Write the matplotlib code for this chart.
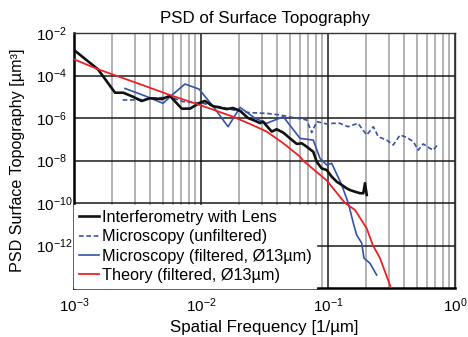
import numpy as np
import matplotlib
matplotlib.use("Agg")
import matplotlib.pyplot as plt
from matplotlib.ticker import LogLocator, FixedLocator, NullFormatter

plt.rcParams['font.family'] = ['Liberation Sans', 'DejaVu Sans']
plt.rcParams['mathtext.fontset'] = 'custom'
plt.rcParams['mathtext.rm'] = 'Liberation Sans'
plt.rcParams['mathtext.it'] = 'Liberation Sans:italic'
plt.rcParams['mathtext.bf'] = 'Liberation Sans:bold'

# ---- data (log10 values) ----
interf_logf = [-3.000, -2.811, -2.677, -2.612, -2.535, -2.467, -2.402, -2.309, -2.244,
               -2.152, -2.087, -2.008, -1.969, -1.906, -1.798, -1.748, -1.693, -1.630,
               -1.575, -1.535, -1.512, -1.443, -1.404, -1.352, -1.299, -1.246, -1.207,
               -1.168, -1.116, -1.089, -1.050, -1.010, -0.971, -0.931, -0.892, -0.853,
               -0.827, -0.787, -0.748, -0.722, -0.709, -0.695]
interf_logp = [-2.80, -3.71, -4.81, -4.81, -5.00, -5.20, -5.07, -5.11, -4.96,
               -5.56, -5.56, -5.28, -5.20, -5.44, -5.58, -5.53, -5.66, -6.00,
               -6.13, -6.24, -6.17, -6.64, -6.53, -6.69, -6.96, -7.22, -7.19,
               -7.35, -7.59, -8.06, -8.37, -8.45, -8.76, -9.00, -9.15, -9.31,
               -9.39, -9.47, -9.54, -9.54, -9.07, -9.62]

micro_raw_logf = [-2.617, -2.506, -2.244, -2.142, -1.982, -1.906, -1.850, -1.748, -1.614,
                  -1.483, -1.378, -1.246, -1.168, -1.128, -1.089, -1.010, -0.958, -0.906,
                  -0.843, -0.764, -0.695, -0.643, -0.604, -0.538, -0.486, -0.433, -0.380,
                  -0.328, -0.289, -0.250, -0.197, -0.171, -0.132]
micro_raw_logp = [-5.15, -5.15, -5.00, -5.23, -5.31, -5.44, -5.47, -5.62, -5.75,
                  -5.78, -5.86, -6.01, -6.09, -6.69, -6.17, -6.28, -6.25, -6.25,
                  -6.41, -6.25, -6.80, -6.41, -6.88, -7.04, -7.27, -6.80, -6.91,
                  -7.12, -7.51, -7.22, -7.43, -7.51, -7.22]

micro_filt_logf = [-2.598, -2.441, -2.299, -2.228, -2.126, -2.016, -1.906, -1.787, -1.693,
                   -1.575, -1.483, -1.352, -1.220, -1.116, -1.063, -1.010, -0.971, -0.892,
                   -0.840, -0.800, -0.774, -0.735, -0.717, -0.669, -0.617]
micro_filt_logp = [-4.61, -4.96, -5.31, -4.92, -4.40, -4.64, -5.44, -6.41, -5.50,
                   -6.01, -6.25, -5.94, -6.96, -7.04, -7.90, -8.21, -8.13, -9.15,
                   -10.01, -10.96, -11.51, -11.88, -12.59, -12.84, -13.39]

theory_logf = [-3.000, -2.809, -2.512, -2.244, -2.008, -1.748, -1.614, -1.483, -1.354,
               -1.220, -1.197, -1.010, -0.866, -0.787, -0.695, -0.646, -0.591, -0.504]
theory_logp = [-3.24, -3.71, -4.34, -4.92, -5.39, -5.94, -6.28, -6.64, -7.18,
               -7.82, -8.00, -8.94, -10.00, -10.33, -11.20, -12.00, -12.59, -14.00]

labels = ["Interferometry with Lens", "Microscopy (unfiltered)",
          "Microscopy (filtered, Ø13µm)", "Theory (filtered, Ø13µm)"]
title = "PSD of Surface Topography"
xlabel = "Spatial Frequency [1/µm]"
ylabel = "PSD Surface Topography [µm³]"
xtick_labels = [r'$10^{-3}$', r'$10^{-2}$', r'$10^{-1}$', r'$10^{0}$']
ytick_labels = [r'$10^{-2}$', r'$10^{-4}$', r'$10^{-6}$', r'$10^{-8}$', r'$10^{-10}$', r'$10^{-12}$']

def p10(a):
    return 10.0 ** np.asarray(a)

fig = plt.figure(figsize=(4.68, 3.37), dpi=100)
ax = fig.add_axes([74/468, 1-288/337, (455-74)/468, (288-33)/337])

blue = '#3553a6'
red = '#ee2024'
ax.plot(p10(interf_logf), p10(interf_logp), color='#111111', lw=1.9, label=labels[0], zorder=5)
ax.plot(p10(micro_raw_logf), p10(micro_raw_logp), color=blue, lw=1.2, ls=(0, (2.8, 1.6)), label=labels[1], zorder=4)
ax.plot(p10(micro_filt_logf), p10(micro_filt_logp), color=blue, lw=1.2, label=labels[2], zorder=4)
ax.plot(p10(theory_logf), p10(theory_logp), color=red, lw=1.3, label=labels[3], zorder=6)

ax.set_xscale('log')
ax.set_yscale('log')
ax.set_xlim(1e-3, 1)
ax.set_ylim(1e-14, 1e-2)

ax.xaxis.set_major_locator(FixedLocator([1e-3, 1e-2, 1e-1, 1]))
ax.xaxis.set_minor_locator(LogLocator(base=10, subs=np.arange(2, 10)))
ax.xaxis.set_minor_formatter(NullFormatter())
ax.set_xticklabels(xtick_labels)
ax.yaxis.set_major_locator(FixedLocator([1e-2, 1e-4, 1e-6, 1e-8, 1e-10, 1e-12]))
ax.set_yticklabels(ytick_labels, ha='left')
ax.yaxis.set_minor_locator(FixedLocator([]))

ax.grid(True, which='minor', axis='x', color='#acacac', lw=1.3)
ax.grid(True, which='major', axis='x', color='#1a1a1a', lw=1.1)
ax.grid(True, which='major', axis='y', color='#1a1a1a', lw=1.1)
ax.set_axisbelow(True)

ax.tick_params(which='both', length=0)
ax.tick_params(axis='y', labelsize=11, pad=27.4)
ax.tick_params(axis='x', labelsize=11, pad=6)

for s in ['left', 'bottom']:
    ax.spines[s].set_linewidth(1.8)
for s in ['top', 'right']:
    ax.spines[s].set_linewidth(1.0)
    ax.spines[s].set_color('#333333')

ax.set_title(title, fontsize=12.2, pad=7)
ax.set_xlabel(xlabel, fontsize=12.2, labelpad=4)
ax.set_ylabel(ylabel, fontsize=11.6, labelpad=8)

leg = ax.legend(loc='lower left', bbox_to_anchor=(0, 0), borderaxespad=0,
                fontsize=11.7, handlelength=1.25, handletextpad=0.15,
                labelspacing=0.27, borderpad=0.3, frameon=True, fancybox=False,
                framealpha=1.0, facecolor='white', edgecolor='white')
leg.set_zorder(10)

fig.savefig('out.png', dpi=100)
